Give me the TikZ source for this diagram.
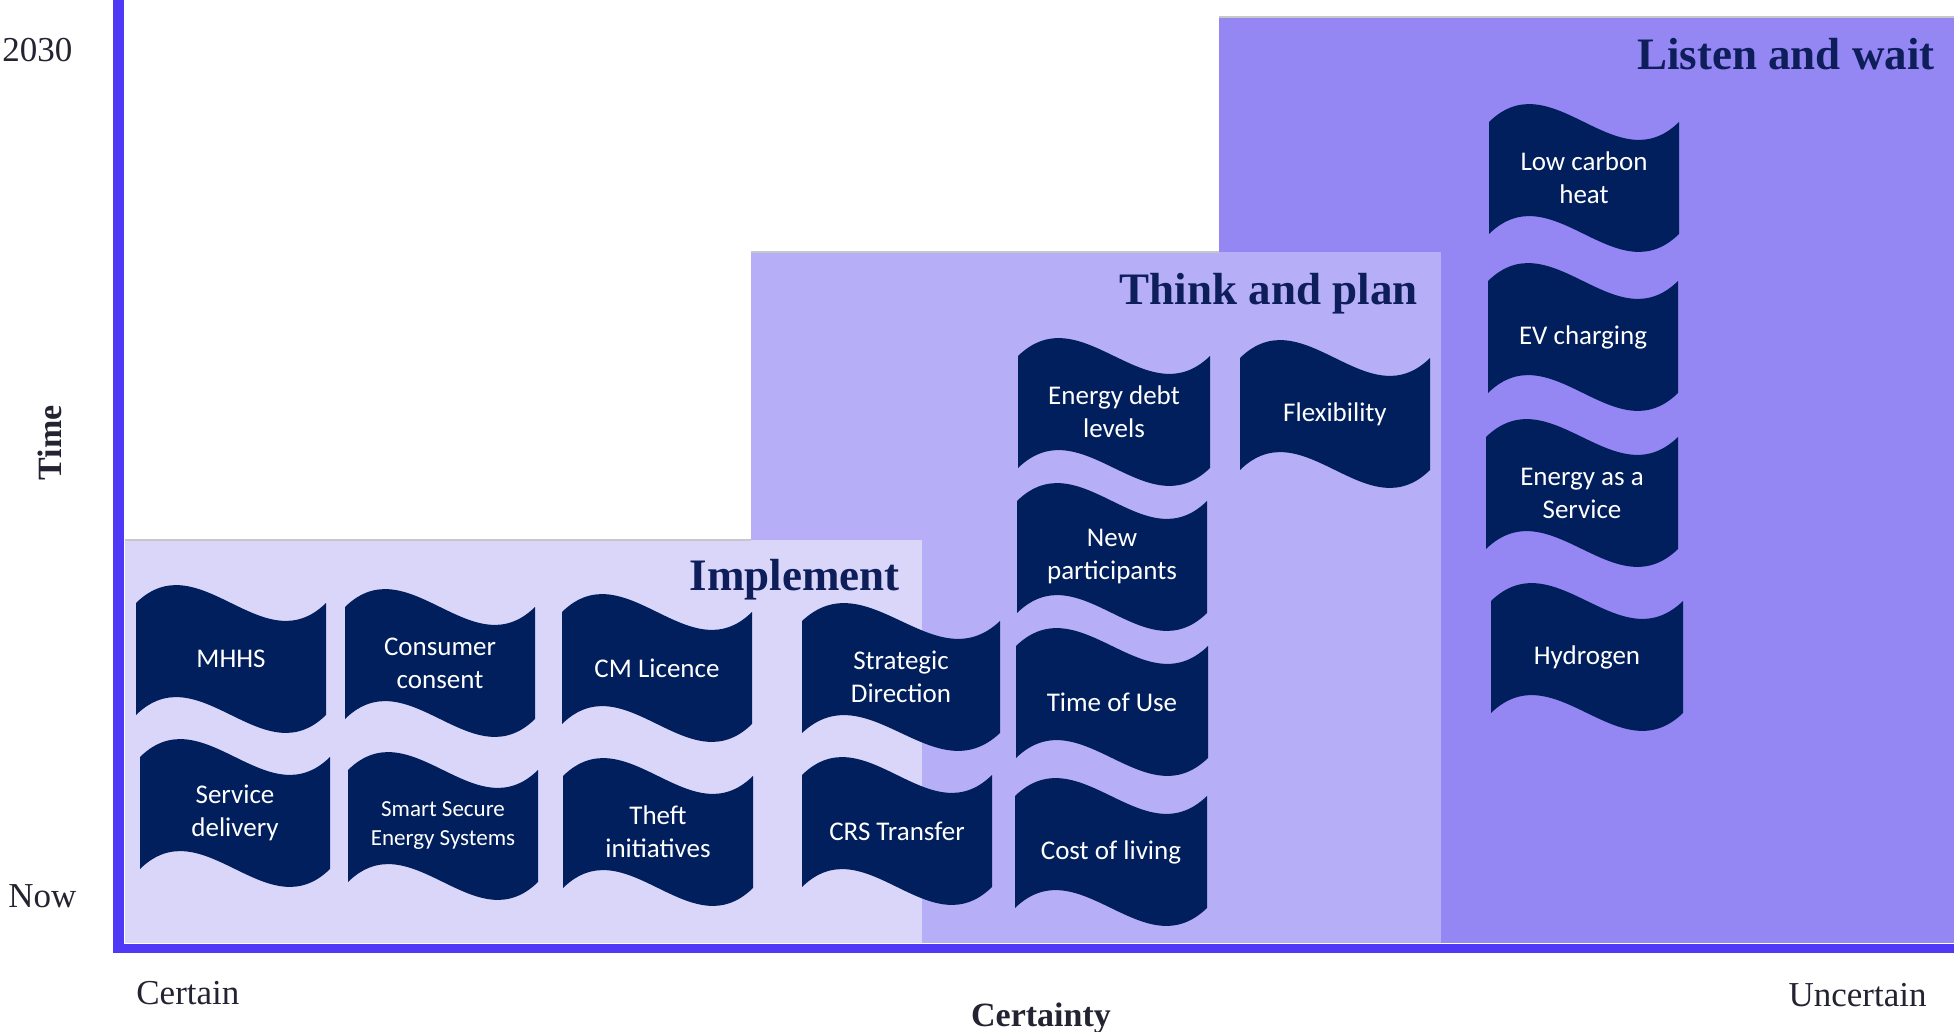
\documentclass[tikz,border=0pt]{standalone}
\usepackage{fontspec}
\usepackage{xcolor}
\usepackage{tikz}
\setmainfont{Liberation Serif}
\newfontfamily\wavefont{Carlito}

\definecolor{axisblue}{RGB}{79,57,246}
\definecolor{implfill}{RGB}{218,214,250}
\definecolor{thinkfill}{RGB}{182,174,246}
\definecolor{listenfill}{RGB}{148,135,244}
\definecolor{wavenavy}{RGB}{0,31,92}
\definecolor{titlenavy}{RGB}{14,30,90}
\definecolor{labelgray}{RGB}{35,35,50}

\tikzset{
  region/.style={fill=#1, draw=none, anchor=north west, inner sep=0pt},
  topedge/.style={draw=black!22, line width=0.6pt},
  axisline/.style={draw=axisblue},
  zonetitle/.style={text=titlenavy, font=\fontsize{22.5}{26}\selectfont\bfseries, anchor=base east, inner sep=0pt},
  axislabel/.style={text=labelgray, font=\fontsize{17.5}{20}\selectfont, inner sep=0pt},
  wavefill/.style={fill=wavenavy},
  wavetext/.style={text=white, align=center, inner sep=0pt, font=\wavefont\fontsize{13.5}{16.5}\selectfont},
}

% wave flag: [node opts], name, x, y, half width, text
\newcommand{\wavebox}[6][]{%
  \fill[wavefill, shift={(#3,#4)}] (-#5,-56) .. controls (-#5/3,-118) and (#5/3,6) .. (#5,-56)
    -- (#5,56) .. controls (#5/3,118) and (-#5/3,-6) .. (-#5,56) -- cycle;
  \node[wavetext, #1] (#2) at (#3,#4) {#6};
}

\begin{document}
\begin{tikzpicture}[x=0.5pt, y=-0.5pt]
  \useasboundingbox (0,0) rectangle (1954,1032);

  % zones
  \node[region=listenfill, minimum width=367.5pt, minimum height=463pt] (listen) at (1219,17) {};
  \node[region=thinkfill, minimum width=345pt, minimum height=345.5pt] (think) at (751,252) {};
  \node[region=implfill, minimum width=398.5pt, minimum height=201.5pt] (implement) at (125,540) {};
  \draw[topedge] (listen.north west) -- (listen.north east);
  \draw[topedge] (think.north west) -- (listen.west |- think.north);
  \draw[topedge] (implement.north west) -- (think.west |- implement.north);

  \node[zonetitle] (tlisten) at (1935,70) {Listen and wait};
  \node[zonetitle] (tthink) at (1418,305) {Think and plan};
  \node[zonetitle] (timpl) at (900,590) {Implement};

  % axes
  \coordinate (ytop) at (118.5,0);
  \coordinate (xend) at (1954,948);
  \draw[axisline, line width=5.5pt] (ytop) -- (118.5,953);
  \draw[axisline, line width=4.5pt] (113,948) -- (xend);

  \node[axislabel, anchor=base west] (y2030) at (2,62) {2030};
  \node[axislabel, anchor=base west] (ynow) at (8,907) {Now};
  \node[axislabel, font=\fontsize{17}{20}\selectfont\bfseries, rotate=90] (ytime) at (50,443) {Time};
  \node[axislabel, anchor=base west] (xcert) at (136,1004) {Certain};
  \node[axislabel, anchor=base east] (xunc) at (1927,1006) {Uncertain};
  \node[axislabel, anchor=base, font=\fontsize{17}{20}\selectfont\bfseries] (xlab) at (1041,1026) {Certainty};

  % implement
  \wavebox{mhhs}{231}{659}{95}{MHHS}
  \wavebox{consent}{440}{663}{95}{Consumer\\consent}
  \wavebox{cmlic}{657}{668}{95}{CM Licence}
  \wavebox{strat}{901}{677}{99}{Strategic\\Direction}
  \wavebox{service}{235}{813}{95}{Service\\delivery}
  \wavebox[font=\wavefont\fontsize{11.5}{14.5}\selectfont]{sses}{443}{826}{95}{Smart Secure\\Energy Systems}
  \wavebox{theft}{658}{832}{95}{Theft\\initiatives}
  \wavebox{crs}{897}{831}{95}{CRS Transfer}

  % think and plan
  \wavebox{debt}{1114}{412}{96}{Energy debt\\levels}
  \wavebox{newpart}{1112}{557}{95}{New\\participants}
  \wavebox{tou}{1112}{702}{96}{Time of Use}
  \wavebox{cost}{1111}{852}{96}{Cost of living}
  \wavebox{flex}{1335}{414}{95}{Flexibility}

  % listen and wait
  \wavebox{lowcarbon}{1584}{178}{95}{Low carbon\\heat}
  \wavebox{ev}{1583}{337}{95}{EV charging}
  \wavebox{eaas}{1582}{493}{96}{Energy as a\\Service}
  \wavebox{hydrogen}{1587}{657}{96}{Hydrogen}
\end{tikzpicture}
\end{document}
